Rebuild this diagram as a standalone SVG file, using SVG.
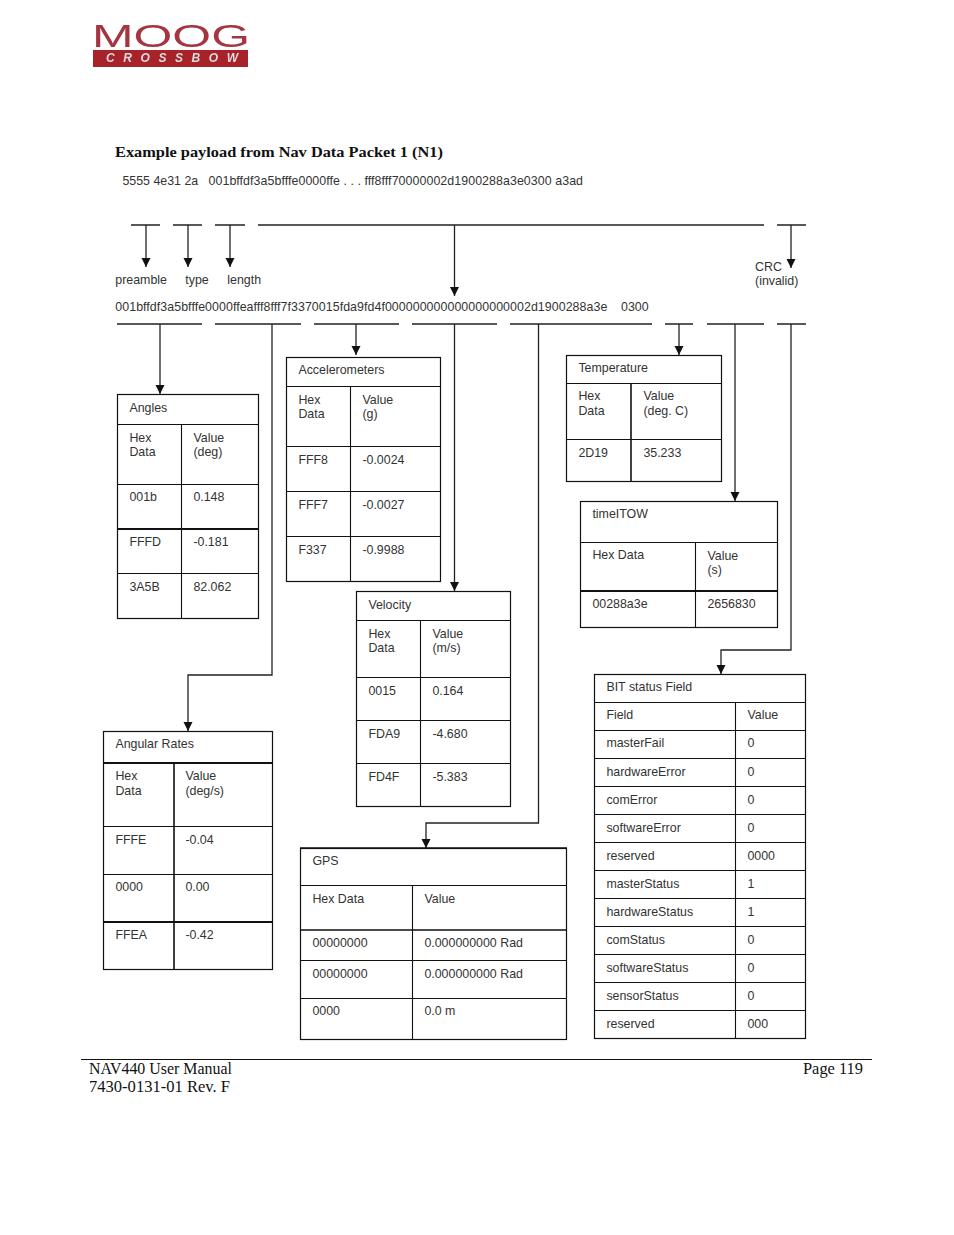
<svg xmlns="http://www.w3.org/2000/svg" width="954" height="1235" viewBox="0 0 954 1235">
<style>
text{font-family:"Liberation Sans",Arial,sans-serif;font-size:12.4px;fill:#333}
.s{font-family:"Liberation Serif","DejaVu Serif",serif;fill:#111;font-size:15.5px}
.f{font-size:16.5px}
.b{fill:none;stroke:#111;stroke-width:1.2}
.t{stroke:#111;stroke-width:1.1;fill:none}
.k{stroke-width:2}
.c{fill:none;stroke:#222;stroke-width:1.3}
</style>
<defs>
<marker id="h" markerUnits="userSpaceOnUse" markerWidth="10" markerHeight="10" refX="9" refY="5" orient="auto" viewBox="0 0 10 10"><path d="M0 0.5L9 5L0 9.5Z" fill="#111"/></marker>
<filter id="soft" x="-5%" y="-5%" width="110%" height="110%"><feGaussianBlur stdDeviation="0.55"/></filter>
</defs>
<rect width="954" height="1235" fill="#fff"/>
<g id="logo" filter="url(#soft)">
<rect x="93" y="50" width="155" height="17" fill="#a8202c"/>
<text x="92" y="47" textLength="158" lengthAdjust="spacingAndGlyphs" style="font-size:31px;fill:#a53540">MOOG</text>
<text x="106" y="62" textLength="132" lengthAdjust="spacing" style="font-size:12px;font-weight:bold;font-style:italic;fill:#ddd">CROSSBOW</text>
</g>
<g id="heading">
<text class="s" x="115" y="157" textLength="328" lengthAdjust="spacingAndGlyphs" style="font-weight:bold">Example payload from Nav Data Packet 1 (N1)</text>
<text x="122.400" y="185">5555 4e31 2a</text>
<text x="208.500" y="185" textLength="374.500">001bffdf3a5bfffe0000ffe . . . fff8fff70000002d1900288a3e0300 a3ad</text>
<text x="115.300" y="284">preamble</text><text x="185.300" y="284">type</text><text x="227.300" y="284">length</text>
<text x="755" y="271">CRC</text><text x="755" y="285">(invalid)</text>
<text x="115.300" y="311" textLength="492">001bffdf3a5bfffe0000ffeafff8fff7f3370015fda9fd4f000000000000000000002d1900288a3e</text>
<text x="621" y="311">0300</text>
</g>
<g id="connectors" class="c">
<path d="M131 225H160M173 225H202M215 225H245M258 225H764M777 225H806"/>
<path d="M117 324H202M215 324H301M314 324H399M412 324H497M510 324H652M665 324H693M707 324H764M777 324H806"/>
<path d="M146 225V267" marker-end="url(#h)"/><path d="M188 225V267" marker-end="url(#h)"/><path d="M230 225V267" marker-end="url(#h)"/>
<path d="M454.500 225V296" marker-end="url(#h)"/><path d="M791 225V268" marker-end="url(#h)"/>
<path d="M160 324V394" marker-end="url(#h)"/>
<path d="M272 324V675H188V731" marker-end="url(#h)"/>
<path d="M356 324V355" marker-end="url(#h)"/>
<path d="M454.500 324V591" marker-end="url(#h)"/>
<path d="M538.500 324V823H426V848" marker-end="url(#h)"/>
<path d="M679 324V355" marker-end="url(#h)"/>
<path d="M735 324V501" marker-end="url(#h)"/>
<path d="M791 324V650H721V674" marker-end="url(#h)"/>
</g>
<g id="angles">
<rect class="b" x="117.500" y="394.500" width="141" height="224"/>
<path class="t" d="M117 424.500H259M117 484.500H259M117 573.500H259M181.500 424V618"/><path class="t k" d="M117 529H259"/>
<text x="129.400" y="412">Angles</text><text x="129.400" y="442">Hex</text><text x="129.400" y="456">Data</text><text x="193.400" y="442">Value</text><text x="193.400" y="456">(deg)</text>
<text x="129.400" y="501">001b</text><text x="193.400" y="501">0.148</text><text x="129.400" y="546">FFFD</text><text x="193.400" y="546">-0.181</text><text x="129.400" y="591">3A5B</text><text x="193.400" y="591">82.062</text>
</g>
<g id="accelerometers">
<rect class="b" x="286.500" y="357.500" width="154" height="224"/>
<path class="t" d="M286 386.500H441M286 446.500H441M286 491.500H441M286 536.500H441M350.500 386V581"/>
<text x="298.400" y="374">Accelerometers</text><text x="298.400" y="404">Hex</text><text x="298.400" y="418">Data</text><text x="362.400" y="404">Value</text><text x="362.400" y="418">(g)</text>
<text x="298.400" y="464">FFF8</text><text x="362.400" y="464">-0.0024</text><text x="298.400" y="509">FFF7</text><text x="362.400" y="509">-0.0027</text><text x="298.400" y="554">F337</text><text x="362.400" y="554">-0.9988</text>
</g>
<g id="temperature">
<rect class="b" x="566.500" y="355.500" width="155" height="126"/>
<path class="t" d="M566 383.500H722M566 439.500H722"/><path class="t" style="stroke-width:1.6" d="M631 383V482"/>
<text x="578.400" y="372">Temperature</text><text x="578.400" y="400">Hex</text><text x="578.400" y="415">Data</text><text x="643.400" y="400">Value</text><text x="643.400" y="415">(deg. C)</text>
<text x="578.400" y="457">2D19</text><text x="643.400" y="457">35.233</text>
</g>
<g id="timeltow">
<rect class="b" x="580.500" y="501.500" width="197" height="126"/>
<path class="t" d="M580 542.500H778M695.500 542V628"/><path class="t k" d="M580 591H778"/>
<text x="592.400" y="518">timeITOW</text><text x="592.400" y="559">Hex Data</text><text x="707.400" y="560">Value</text><text x="707.400" y="574">(s)</text>
<text x="592.400" y="608">00288a3e</text><text x="707.400" y="608">2656830</text>
</g>
<g id="velocity">
<rect class="b" x="356.500" y="591.500" width="154" height="215"/>
<path class="t" d="M356 620.500H511M356 677.500H511M356 720.500H511M356 763.500H511M420.500 620V807"/>
<text x="368.400" y="609">Velocity</text><text x="368.400" y="638">Hex</text><text x="368.400" y="652">Data</text><text x="432.400" y="638">Value</text><text x="432.400" y="652">(m/s)</text>
<text x="368.400" y="695">0015</text><text x="432.400" y="695">0.164</text><text x="368.400" y="738">FDA9</text><text x="432.400" y="738">-4.680</text><text x="368.400" y="781">FD4F</text><text x="432.400" y="781">-5.383</text>
</g>
<g id="angular-rates">
<rect class="b" x="103.500" y="731.500" width="169" height="238"/>
<path class="t" d="M103 826.500H273M103 874.500H273"/><path class="t k" d="M103 763H273M103 922H273"/><path class="t" style="stroke-width:1.6" d="M174 763V970"/>
<text x="115.400" y="748">Angular Rates</text><text x="115.400" y="780">Hex</text><text x="115.400" y="795">Data</text><text x="185.400" y="780">Value</text><text x="185.400" y="795">(deg/s)</text>
<text x="115.400" y="844">FFFE</text><text x="185.400" y="844">-0.04</text><text x="115.400" y="891">0000</text><text x="185.400" y="891">0.00</text><text x="115.400" y="939">FFEA</text><text x="185.400" y="939">-0.42</text>
</g>
<g id="gps">
<rect class="b" x="300.500" y="848.500" width="266" height="191"/>
<path class="t" d="M300 885.500H567M300 960.500H567M300 998.500H567M412.500 885V1040"/><path class="t" style="stroke-width:1.6" d="M300 930H567M300 848H567"/>
<text x="312.400" y="865">GPS</text><text x="312.400" y="903">Hex Data</text><text x="424.400" y="903">Value</text>
<text x="312.400" y="947">00000000</text><text x="424.400" y="947">0.000000000 Rad</text><text x="312.400" y="978">00000000</text><text x="424.400" y="978">0.000000000 Rad</text><text x="312.400" y="1015">0000</text><text x="424.400" y="1015">0.0 m</text>
</g>
<g id="bit-status">
<rect class="b" x="594.500" y="674.500" width="211" height="364"/>
<path class="t" d="M594 702.500H806M594 730.500H806M594 758.500H806M594 786.500H806M594 814.500H806M594 842.500H806M594 870.500H806M594 898.500H806M594 926.500H806M594 954.500H806M594 982.500H806M594 1010.500H806M735.500 702V1039"/>
<text x="606.400" y="691">BIT status Field</text><text x="606.400" y="719">Field</text><text x="747.400" y="719">Value</text>
<text x="606.400" y="747">masterFail</text><text x="747.400" y="747">0</text>
<text x="606.400" y="776">hardwareError</text><text x="747.400" y="776">0</text>
<text x="606.400" y="804">comError</text><text x="747.400" y="804">0</text>
<text x="606.400" y="832">softwareError</text><text x="747.400" y="832">0</text>
<text x="606.400" y="860">reserved</text><text x="747.400" y="860">0000</text>
<text x="606.400" y="888">masterStatus</text><text x="747.400" y="888">1</text>
<text x="606.400" y="916">hardwareStatus</text><text x="747.400" y="916">1</text>
<text x="606.400" y="944">comStatus</text><text x="747.400" y="944">0</text>
<text x="606.400" y="972">softwareStatus</text><text x="747.400" y="972">0</text>
<text x="606.400" y="1000">sensorStatus</text><text x="747.400" y="1000">0</text>
<text x="606.400" y="1028">reserved</text><text x="747.400" y="1028">000</text>
</g>
<g id="footer">
<path d="M81 1059.500H872" stroke="#111" stroke-width="1.2"/>
<text class="s f" x="89" y="1074" textLength="143" lengthAdjust="spacingAndGlyphs">NAV440 User Manual</text>
<text class="s f" x="89" y="1092" textLength="141" lengthAdjust="spacingAndGlyphs">7430-0131-01 Rev. F</text>
<text class="s f" x="803" y="1074" textLength="60" lengthAdjust="spacingAndGlyphs">Page 119</text>
</g>
</svg>
